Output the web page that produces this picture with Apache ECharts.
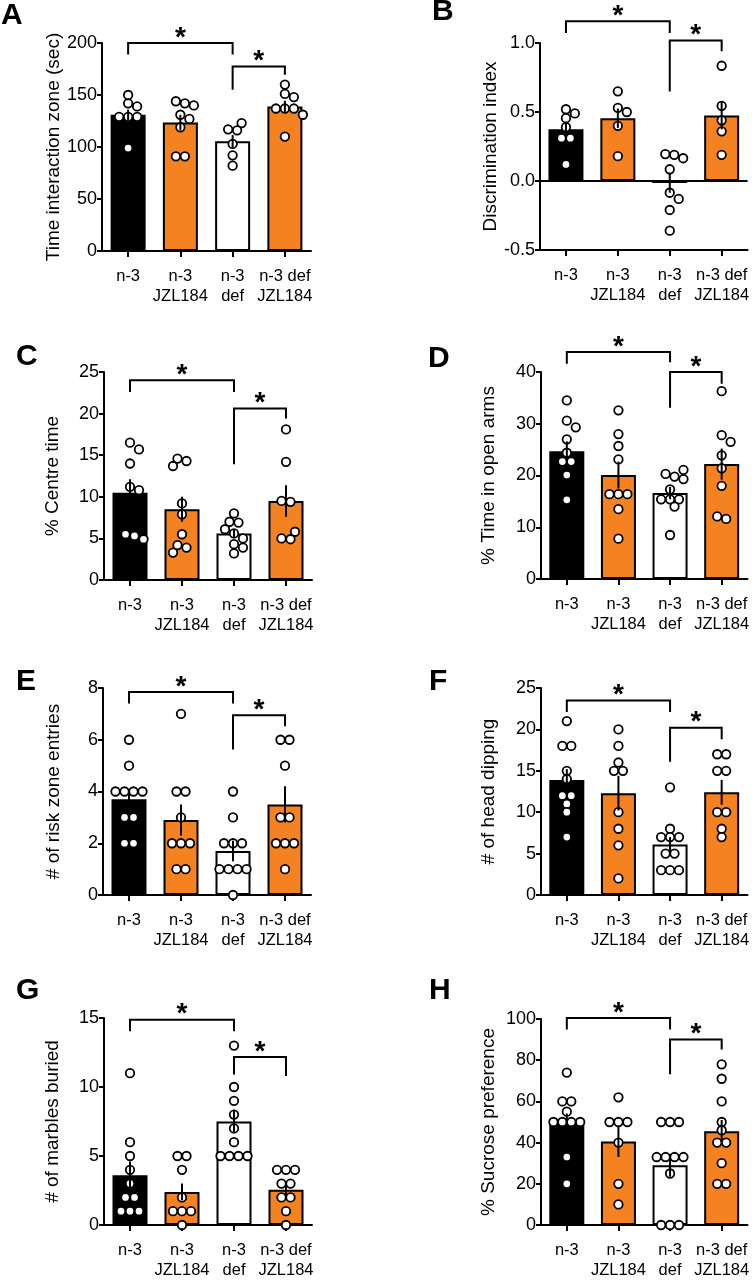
<!DOCTYPE html>
<html><head><meta charset="utf-8">
<script src="https://cdn.jsdelivr.net/npm/echarts@6/dist/echarts.min.js"></script>
<style>html,body{margin:0;padding:0;background:#fff}#c{width:752px;height:1280px}</style>
</head><body><div id="c"></div>
<script>
// ---------------- DATA ----------------
const categories = ['n-3', 'n-3\nJZL184', 'n-3\ndef', 'n-3 def\nJZL184'];

// A
const aTitle = 'Time interaction zone (sec)';
const aTicks = [0, 50, 100, 150, 200];
const aMeans = [131, 123.5, 105.5, 139];
const aSem = [5, 7.5, 6, 5.5];
const aN3 = [139, 142, 150, 129, 129, 129, 99];
const aJzl = [144, 140, 142, 127, 131, 119, 91, 91];
const aDef = [123, 117, 116, 103, 92, 82];
const aDefJzl = [160, 148, 151, 137, 137, 137, 131, 110];

// B
const bTitle = 'Discrimination index';
const bTicks = [-0.5, 0, 0.5, 1.0];
const bMeans = [0.375, 0.455, -0.015, 0.475];
const bSem = [0.05, 0.07, 0.07, 0.1];
const bN3 = [0.52, 0.49, 0.455, 0.39, 0.31, 0.31, 0.12];
const bJzl = [0.65, 0.50, 0.53, 0.40, 0.18];
const bDef = [0.19, 0.165, 0.195, 0.085, -0.085, -0.13, -0.21, -0.36];
const bDefJzl = [0.835, 0.545, 0.44, 0.36, 0.19];

// C
const cTitle = '% Centre time';
const cTicks = [0, 5, 10, 15, 20, 25];
const cMeans = [10.5, 8.5, 5.6, 9.5];
const cSem = [1.6, 1.5, 0.5, 1.9];
const cN3 = [16.5, 15.7, 14, 11.2, 10.8, 5.5, 4.9, 5.3];
const cJzl = [14.3, 13.7, 14.6, 9.2, 7.9, 5.5, 4.2, 3.9, 3.3];
const cDef = [8, 6.9, 7, 6.1, 5.6, 5, 4.3, 3.9, 3.2];
const cDefJzl = [18.1, 14.2, 9.5, 9.4, 5.8, 4.9, 5];

// D
const dTitle = '% Time in open arms';
const dTicks = [0, 10, 20, 30, 40];
const dMeans = [24.7, 20.1, 16.6, 22.2];
const dSem = [1.9, 2.6, 1.2, 3];
const dN3 = [34.5, 30.6, 29.3, 27, 24.4, 22.7, 22.7, 20.1, 15.3];
const dJzl = [32.6, 28, 25.7, 23.1, 16.4, 16.4, 16.4, 13.5, 7.8];
const dDef = [21.1, 20.3, 19.8, 19.3, 17.3, 15.4, 15.4, 15.4, 14, 8.5];
const dDefJzl = [36.3, 26.5, 27.8, 23.9, 21.4, 18, 11.6, 12.1];

// E
const eTitle = '# of risk zone entries';
const eTicks = [0, 2, 4, 6, 8];
const eMeans = [3.7, 2.9, 1.7, 3.5];
const eSem = [0.4, 0.6, 0.4, 0.7];
const eN3 = [6, 5, 4, 4, 4, 4, 3, 3, 2, 2];
const eJzl = [7, 4, 4, 3, 2, 2, 2, 1, 1];
const eDef = [4, 3, 2, 2, 2, 1, 1, 1, 1, 0];
const eDefJzl = [6, 6, 5, 3, 3, 2, 2, 2, 1];

// F
const fTitle = '# of head dipping';
const fTicks = [0, 5, 10, 15, 20, 25];
const fMeans = [13.9, 12.3, 6.1, 12.4];
const fSem = [1.3, 2.1, 0.9, 1.5];
const fN3 = [21, 18, 18, 15, 14, 12, 12, 11, 10, 7];
const fJzl = [20, 18, 16, 15, 15, 10, 8, 6, 2];
const fDef = [13, 8, 7, 7, 7, 5, 5, 3, 3, 3];
const fDefJzl = [17, 17, 15, 15, 10, 10, 8, 7];

// G
const gTitle = '# of marbles buried';
const gTicks = [0, 5, 10, 15];
const gMeans = [3.6, 2.4, 7.5, 2.55];
const gSem = [1.0, 0.6, 0.85, 0.4];
const gN3 = [11, 6, 5, 4, 3, 2, 2, 1, 1, 1];
const gJzl = [5, 5, 4, 2, 1, 1, 1, 0];
const gDef = [13, 10, 9, 8, 7, 6, 5, 5, 5, 5];
const gDefJzl = [4, 4, 4, 3, 3, 2, 2, 1, 0];

// H
const hTitle = '% Sucrose preference';
const hTicks = [0, 20, 40, 60, 80, 100];
const hMeans = [50.3, 40.5, 29, 45.5];
const hSem = [3.8, 7.5, 5.5, 5.5];
const hN3 = [74, 60, 60, 55, 50, 50, 50, 50, 33, 20];
const hJzl = [62, 50, 50, 50, 40, 20, 10];
const hDef = [50, 50, 50, 33, 33, 33, 33, 25, 0, 0, 0];
const hDefJzl = [78, 71, 60, 50, 46, 40, 40, 30, 20, 20];

// ---------------- LAYOUT / STYLE ----------------
const FONT = 'Liberation Sans, Arial, Helvetica, sans-serif';
const barColors = ['#000000', '#F58220', '#FFFFFF', '#F58220'];
const layouts = {
  A: {left: 102, top: 43,   width: 209, height: 208, nameGap: 37, letter: [1, 1]},
  B: {left: 540, top: 43,   width: 209, height: 207, nameGap: 34, letter: [432, -3], dec: 1, zero: true},
  C: {left: 104, top: 372,  width: 208, height: 208, nameGap: 42, letter: [16, 342]},
  D: {left: 541, top: 372,  width: 208, height: 207, nameGap: 43, letter: [428, 344]},
  E: {left: 103, top: 688,  width: 208, height: 207, nameGap: 40, letter: [16, 667]},
  F: {left: 541, top: 688,  width: 208, height: 207, nameGap: 43, letter: [429, 667]},
  G: {left: 104, top: 1018, width: 208, height: 208, nameGap: 42, letter: [16, 976]},
  H: {left: 541, top: 1019, width: 208, height: 208, nameGap: 43, letter: [429, 976]}
};
// significance brackets: [fromGroup, toGroup, topLevel, leftLegEnd, rightLegEnd] in axis units
const brackets = {
  A: [[0, 2, 200, 189, 189], [2, 3, 177.5, 155, 169.5]],
  B: [[0, 2, 1.157, 1.072, 1.072], [2, 3, 1.019, 0.649, 0.94]],
  C: [[0, 2, 24, 22.6, 22.6], [2, 3, 20.6, 13.9, 19.4]],
  D: [[0, 2, 43.85, 41.6, 41.9], [2, 3, 40, 33.1, 37.75]],
  E: [[0, 2, 7.85, 7.4, 7.4], [2, 3, 6.95, 5.62, 6.52]],
  F: [[0, 2, 23.5, 22.1, 22.1], [2, 3, 20.2, 16.1, 18.8]],
  G: [[0, 2, 14.88, 14.04, 14.04], [2, 3, 12.18, 10.9, 10.8]],
  H: [[0, 2, 100.5, 94.9, 94.9], [2, 3, 90, 73.2, 85.2]]
};

const panels = [
  {key: 'A', title: aTitle, ticks: aTicks, means: aMeans, sem: aSem, groups: [aN3, aJzl, aDef, aDefJzl]},
  {key: 'B', title: bTitle, ticks: bTicks, means: bMeans, sem: bSem, groups: [bN3, bJzl, bDef, bDefJzl]},
  {key: 'C', title: cTitle, ticks: cTicks, means: cMeans, sem: cSem, groups: [cN3, cJzl, cDef, cDefJzl]},
  {key: 'D', title: dTitle, ticks: dTicks, means: dMeans, sem: dSem, groups: [dN3, dJzl, dDef, dDefJzl]},
  {key: 'E', title: eTitle, ticks: eTicks, means: eMeans, sem: eSem, groups: [eN3, eJzl, eDef, eDefJzl]},
  {key: 'F', title: fTitle, ticks: fTicks, means: fMeans, sem: fSem, groups: [fN3, fJzl, fDef, fDefJzl]},
  {key: 'G', title: gTitle, ticks: gTicks, means: gMeans, sem: gSem, groups: [gN3, gJzl, gDef, gDefJzl]},
  {key: 'H', title: hTitle, ticks: hTicks, means: hMeans, sem: hSem, groups: [hN3, hJzl, hDef, hDefJzl]}
];

// Beeswarm-style horizontal spreading of dots (derived from values, in px)
function swarm(vals, pxPerUnit) {
  const D = 9;
  const order = vals.map((v, i) => i).sort((a, b) => vals[b] - vals[a]);
  const rows = [];
  order.forEach(i => {
    const last = rows[rows.length - 1];
    if (last && Math.abs(vals[last[0]] - vals[i]) * pxPerUnit < 3) last.push(i);
    else rows.push([i]);
  });
  const sortedRows = rows.slice().sort((a, b) => b.length - a.length);
  const placed = [];
  const out = new Array(vals.length).fill(0);
  const shifts = [0, 0.5, -0.5, 1, -1, 1.5, -1.5, 2, -2, 2.5, -2.5, 3, -3];
  sortedRows.forEach(row => {
    const n = row.length;
    const y = vals[row[0]] * pxPerUnit;
    for (const s of shifts) {
      const xs = row.map((_, k) => (k - (n - 1) / 2 + s) * D);
      let ok = true;
      for (const x of xs) {
        for (const p of placed) {
          const dx = x - p[0], dy = y - p[1];
          if (dx * dx + dy * dy < (D * 0.9) * (D * 0.9)) { ok = false; break; }
        }
        if (!ok) break;
      }
      if (ok) {
        row.forEach((idx, k) => { out[idx] = xs[k]; placed.push([xs[k], vals[idx] * pxPerUnit]); });
        return;
      }
    }
    row.forEach((idx, k) => { out[idx] = (k - (n - 1) / 2) * D; });
  });
  return out;
}

const grid = [], xAxis = [], yAxis = [], series = [], graphic = [];
panels.forEach((p, i) => {
  const L = layouts[p.key];
  const min = p.ticks[0], max = p.ticks[p.ticks.length - 1];
  const interval = p.ticks[1] - p.ticks[0];
  grid.push({left: L.left, top: L.top, width: L.width, height: L.height});
  xAxis.push({
    type: 'category', gridIndex: i, data: categories,
    axisLine: {show: true, onZero: false, lineStyle: {color: '#000', width: 2}},
    axisTick: {show: true, alignWithLabel: true, length: 6, lineStyle: {color: '#000', width: 2}},
    axisLabel: {interval: 0, color: '#000', fontSize: 16.5, lineHeight: 20, fontFamily: FONT, margin: 15}
  });
  xAxis.push({type: 'value', gridIndex: i, min: -0.5, max: 3.5, show: false,
    axisLine: {onZero: false}});
  yAxis.push({
    type: 'value', gridIndex: i, min: min, max: max, interval: interval,
    name: p.title, nameLocation: 'middle', nameRotate: 90, nameGap: L.nameGap,
    nameTextStyle: {color: '#000', fontSize: 19, fontFamily: FONT},
    axisLine: {show: true, onZero: false, lineStyle: {color: '#000', width: 2}},
    axisTick: {show: true, length: 5, lineStyle: {color: '#000', width: 2}},
    axisLabel: {color: '#000', fontSize: 18, fontFamily: FONT, margin: 5,
      formatter: v => L.dec ? v.toFixed(L.dec) : String(v)},
    splitLine: {show: false}
  });
  const barSeries = {
    type: 'bar', xAxisIndex: 2 * i, yAxisIndex: i, barWidth: 35, z: 2,
    data: p.means.map((v, k) => ({value: v, itemStyle: {color: barColors[k], borderColor: '#000', borderWidth: 2}})),
    silent: true
  };
  if (L.zero) {
    barSeries.markLine = {silent: true, symbol: ['none', 'none'], label: {show: false},
      lineStyle: {color: '#000', width: 2, type: 'solid'}, data: [{yAxis: 0}]};
  }
  series.push(barSeries);
  const pxPerUnit = L.height / (max - min);
  const pxPerCat = L.width / 4;
  const pts = [];
  p.groups.forEach((g, k) => {
    const offs = swarm(g, pxPerUnit);
    g.forEach((v, j) => pts.push([k + offs[j] / pxPerCat, v]));
  });
  series.push({
    type: 'scatter', xAxisIndex: 2 * i + 1, yAxisIndex: i, z: 3, silent: true,
    symbol: 'circle', symbolSize: 8.5,
    itemStyle: {color: '#fff', borderColor: '#000', borderWidth: 1.8, opacity: 1},
    data: pts
  });
  series.push({
    type: 'custom', xAxisIndex: 2 * i + 1, yAxisIndex: i, z: 4, silent: true, clip: false,
    data: p.means.map((m, k) => [k, m, p.sem[k]]),
    renderItem: (params, api) => {
      const x = api.value(0), m = api.value(1), s = api.value(2);
      const a = api.coord([x, m - s]), b = api.coord([x, m + s]);
      return {type: 'line', shape: {x1: a[0], y1: a[1], x2: b[0], y2: b[1]},
        style: {stroke: '#000', lineWidth: 2}};
    }
  });
  series.push({
    type: 'custom', xAxisIndex: 2 * i + 1, yAxisIndex: i, z: 5, silent: true, clip: false,
    data: brackets[p.key],
    renderItem: (params, api) => {
      const x1 = api.value(0), x2 = api.value(1), yt = api.value(2), yl = api.value(3), yr = api.value(4);
      const pL = api.coord([x1, yl]), pTL = api.coord([x1, yt]), pTR = api.coord([x2, yt]), pR = api.coord([x2, yr]);
      return {type: 'group', children: [
        {type: 'polyline', shape: {points: [pL, pTL, pTR, pR]}, style: {stroke: '#000', lineWidth: 2, fill: null}},
        {type: 'text', style: {text: '*', x: (pTL[0] + pTR[0]) / 2, y: pTL[1] - 5, align: 'center', verticalAlign: 'middle',
          font: 'bold 28px ' + FONT, fill: '#000'}}
      ]};
    }
  });
  graphic.push({type: 'text', left: L.letter[0], top: L.letter[1],
    style: {text: p.key, font: 'bold 30px ' + FONT, fill: '#000'}});
});

const chart = echarts.init(document.getElementById('c'), null, {renderer: 'canvas'});
chart.setOption({animation: false, backgroundColor: '#fff', grid, xAxis, yAxis, series, graphic});
</script>
</body></html>
